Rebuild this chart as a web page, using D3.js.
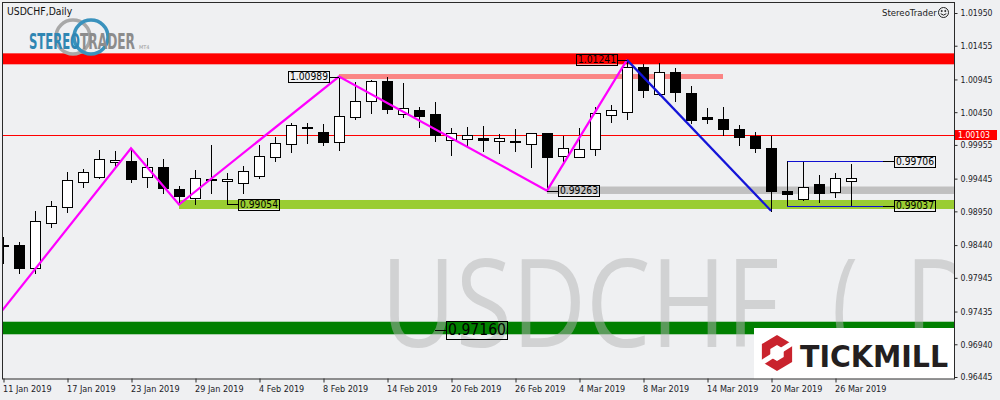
<!DOCTYPE html>
<html><head><meta charset="utf-8">
<script src="https://cdn.jsdelivr.net/npm/d3@7"></script>
<style>html,body{margin:0;padding:0;background:#eff0f2;} svg{display:block}</style>
</head><body><svg id="c" width="1000" height="400"></svg>
<script>
// ---------- DATA ----------
const symbolTitle = "USDCHF,Daily";
const watermarkMain = "USDCHF";
const watermarkTail = ["(", "D1)"];
const preDates = ["2019-01-10"];
const dates = ["2019-01-11","2019-01-14","2019-01-15","2019-01-16","2019-01-17","2019-01-18","2019-01-21","2019-01-22","2019-01-23","2019-01-24","2019-01-25","2019-01-28","2019-01-29","2019-01-30","2019-01-31","2019-02-01","2019-02-04","2019-02-05","2019-02-06","2019-02-07","2019-02-08","2019-02-11","2019-02-12","2019-02-13","2019-02-14","2019-02-15","2019-02-18","2019-02-19","2019-02-20","2019-02-21","2019-02-22","2019-02-25","2019-02-26","2019-02-27","2019-02-28","2019-03-01","2019-03-04","2019-03-05","2019-03-06","2019-03-07","2019-03-08","2019-03-11","2019-03-12","2019-03-13","2019-03-14","2019-03-15","2019-03-18","2019-03-19","2019-03-20","2019-03-21","2019-03-22","2019-03-25","2019-03-26","2019-03-27"];
const open  = [0.98435,0.98441,0.98089,0.98769,0.99011,0.99390,0.99474,0.99692,0.99707,0.99465,0.99621,0.99288,0.99157,0.99440,0.99405,0.99374,0.99485,0.99777,0.99964,1.00218,1.00150,0.99995,1.00382,1.00624,1.00926,1.00418,1.00483,1.00427,1.00025,1.00040,1.00060,1.00010,1.00014,0.99964,1.00135,0.99792,0.99777,0.99889,1.00403,1.00448,1.01129,1.00720,1.01053,1.00736,1.00382,1.00342,1.00191,1.00090,0.99904,0.99258,0.99132,0.99364,0.99238,0.99409];
const high  = [0.98567,0.98482,0.98955,0.99111,0.99545,0.99591,0.99878,0.99863,0.99904,0.99762,0.99742,0.99334,0.99576,0.99954,0.99526,0.99636,0.99954,1.00075,1.00282,1.00291,1.00267,1.00989,1.00911,1.00937,1.00987,1.00896,1.00533,1.00599,1.00206,1.00230,1.00241,1.00120,1.00191,1.00140,1.00140,1.00090,1.00206,1.00521,1.00554,1.01241,1.01174,1.01189,1.01123,1.00846,1.00509,1.00524,1.00256,1.00146,1.00090,0.99474,0.99706,0.99500,0.99535,0.99666];
const low   = [0.98164,0.98013,0.98022,0.98718,0.98945,0.99323,0.99450,0.99625,0.99399,0.99323,0.99223,0.99054,0.99061,0.99223,0.99072,0.99223,0.99450,0.99716,0.99852,0.99988,0.99954,0.99878,1.00342,1.00433,1.00442,1.00382,1.00230,1.00014,0.99802,0.99954,0.99867,0.99828,0.99867,0.99616,0.99263,0.99701,0.99770,0.99802,1.00306,1.00351,1.00684,1.00710,1.00624,1.00282,1.00282,1.00105,0.99954,0.99843,0.98960,0.99046,0.99128,0.99096,0.99172,0.99037];
const close = [0.98422,0.98089,0.98804,0.99026,0.99420,0.99541,0.99737,0.99722,0.99444,0.99621,0.99308,0.99187,0.99450,0.99420,0.99439,0.99556,0.99783,0.99991,1.00256,1.00224,1.00004,1.00392,1.00615,1.00922,1.00503,1.00513,1.00397,1.00105,1.00131,1.00100,1.00029,1.00055,1.00016,1.00135,0.99777,0.99913,0.99889,1.00433,1.00478,1.01129,1.00785,1.01053,1.00760,1.00332,1.00351,1.00200,1.00079,0.99913,0.99263,0.99208,0.99318,0.99232,0.99455,0.99459];

const priceTicks = [1.01950,1.01455,1.00945,1.00450,0.99955,0.99445,0.98950,0.98440,0.97945,0.97435,0.96940,0.96445];
const timeTicks = ["2019-01-11","2019-01-17","2019-01-23","2019-01-29","2019-02-04","2019-02-08","2019-02-14","2019-02-20","2019-02-26","2019-03-04","2019-03-08","2019-03-14","2019-03-20","2019-03-26"];
const timeTickLabels = ["11 Jan 2019","17 Jan 2019","23 Jan 2019","29 Jan 2019","4 Feb 2019","8 Feb 2019","14 Feb 2019","20 Feb 2019","26 Feb 2019","4 Mar 2019","8 Mar 2019","14 Mar 2019","20 Mar 2019","26 Mar 2019"];

const bidPrice = 1.00103;

// zones
const bandLow  = [1.01174, 1.00952, 0.99213, 0.98986, 0.97091];
const bandHigh = [1.01340, 1.01027, 0.99326, 0.99122, 0.97281];
const bandFrom = [null, "2019-02-11", "2019-02-28", "2019-01-28", null];
const bandTo   = [null, "2019-03-15", null, null, null];

// zigzag
const zigDates  = ["2019-01-10","2019-01-23","2019-01-28","2019-02-11","2019-02-28","2019-03-07"];
const zigPrices = [0.97160, 0.99904, 0.99054, 1.00989, 0.99263, 1.01241];
const downDates  = ["2019-03-07","2019-03-20"];
const downPrices = [1.01241, 0.98960];

// range
const rangeFrom = "2019-03-21";
const rangeHigh = 0.99706, rangeLow = 0.99037;

// price labels
const labelPrices = [1.00989, 1.01241, 0.99263, 0.99054, 0.97160];
const labelDates  = ["2019-02-11","2019-03-07","2019-02-28","2019-01-31","2019-02-19"];

// ---------- DRAW ----------
const svg = d3.select("#c");
const timeline = preDates.concat(dates);
const ix = d => timeline.indexOf(d) - preDates.length;
const x = d3.scaleLinear().domain([0, 59.5]).range([3, 955]);
const y = d3.scaleLinear().domain([0.96445, 1.01950]).range([377, 13]);
const xd = d => x(ix(d));
const L = 3, R = 954.5, T = 3, B = 379;
const font = "'DejaVu Sans',sans-serif";

function squeeze(sel, k){
  sel.each(function(){
    const w = this.getComputedTextLength();
    d3.select(this).attr("textLength", w*k).attr("lengthAdjust","spacingAndGlyphs");
  });
}

svg.append("rect").attr("width",1000).attr("height",400).attr("fill","#eff0f2");
svg.append("defs").append("clipPath").attr("id","pc").append("rect")
  .attr("x",L).attr("y",T).attr("width",R-L).attr("height",B-T);
const g = svg.append("g").attr("clip-path","url(#pc)");

// bands
const bandColors = ["#ff0000","#fa8484","#c0c0c0","#9acd32","#008000"];
bandLow.forEach((lo,i)=>{
  const x0 = bandFrom[i] ? xd(bandFrom[i]) : L;
  const x1 = bandTo[i] ? xd(bandTo[i]) : R;
  g.append("rect").attr("x",x0).attr("width",x1-x0)
   .attr("y",y(bandHigh[i])).attr("height",y(lo)-y(bandHigh[i]))
   .attr("fill",bandColors[i]);
});

// watermark
const wm = g.append("g").attr("fill","#b4b4b4").attr("fill-opacity",0.5)
  .attr("font-family","'Open Sans','Noto Sans',sans-serif").attr("font-weight",500).attr("font-size",122);
wm.append("text").attr("x",381).attr("y",347).attr("textLength",398).attr("lengthAdjust","spacingAndGlyphs").text(watermarkMain);
wm.append("text").attr("x",832).attr("y",347).attr("textLength",26).attr("lengthAdjust","spacingAndGlyphs").text(watermarkTail[0]);
wm.append("text").attr("x",905).attr("y",347).attr("textLength",160).attr("lengthAdjust","spacingAndGlyphs").text(watermarkTail[1]);

// bid line
g.append("line").attr("x1",L).attr("x2",R).attr("y1",Math.round(y(bidPrice))+0.5).attr("y2",Math.round(y(bidPrice))+0.5)
 .attr("stroke","#ff0000").attr("stroke-width",1);

// candles
const cg = g.append("g");
dates.forEach((d,i)=>{
  const cx = Math.round(x(i));
  cg.append("line").attr("x1",cx+0.5).attr("x2",cx+0.5)
    .attr("y1",Math.round(y(high[i]))).attr("y2",Math.round(y(low[i]))+1)
    .attr("stroke","#000").attr("stroke-width",1);
  const top = Math.round(y(Math.max(open[i],close[i])));
  const bot = Math.round(y(Math.min(open[i],close[i])));
  const h = Math.max(bot-top,1);
  cg.append("rect").attr("x",cx-4.5).attr("width",10).attr("y",top+0.5).attr("height",h)
    .attr("fill", close[i] >= open[i] ? "#fff" : "#000").attr("stroke","#000").attr("stroke-width",1);
});

// zigzag
const line = d3.line().x(p=>xd(p[0])).y(p=>y(p[1]));
g.append("path").attr("d",line(zigDates.map((d,i)=>[d,zigPrices[i]])))
 .attr("fill","none").attr("stroke","#ff00ff").attr("stroke-width",2.2);
g.append("path").attr("d",line(downDates.map((d,i)=>[d,downPrices[i]])))
 .attr("fill","none").attr("stroke","#1414d8").attr("stroke-width",2.2);

function labelBox(txt, left, p, w, h, fs, tl){
  const yy = y(p);
  g.append("rect").attr("x",Math.round(left)+0.5).attr("y",Math.round(yy-h/2)+0.5).attr("width",w).attr("height",h)
    .attr("fill","none").attr("stroke","#000");
  g.append("text").attr("x",left+2).attr("y",yy+fs*0.36).attr("font-size",fs).attr("font-family",font)
    .attr("textLength",tl).attr("lengthAdjust","spacingAndGlyphs").attr("fill","#000").text(txt);
}

// range lines
const rx0 = xd(rangeFrom), rx1 = x(ix(rangeFrom)+6);
[rangeHigh, rangeLow].forEach(p=>{
  const yy = Math.round(y(p))+0.5;
  g.append("line").attr("x1",rx0).attr("x2",rx1).attr("y1",yy).attr("y2",yy).attr("stroke","#1010d0");
  g.append("line").attr("x1",rx1).attr("x2",rx1+11).attr("y1",yy).attr("y2",yy).attr("stroke","#000");
  labelBox(p.toFixed(5), rx1+11, p, 41, 11, 10, 38);
});
g.append("line").attr("x1",rx0+0.5).attr("x2",rx0+0.5).attr("y1",y(rangeHigh)).attr("y2",y(rangeLow))
 .attr("stroke","#000");

labelPrices.forEach((p,i)=>{
  const ax = xd(labelDates[i]);
  const yy = Math.round(y(p))+0.5;
  const big = i===4;
  const w = big ? 61 : 41, hh = big ? 18 : 11;
  const leftSide = (i<2);
  const bx = leftSide ? ax-10-w : ax+11;
  g.append("line").attr("x1",ax).attr("x2",leftSide? ax-10 : ax+11).attr("y1",yy).attr("y2",yy).attr("stroke","#000");
  labelBox(p.toFixed(5), bx, p, w, hh, big?16:10, big?58:38);
});

// Tickmill box
const tm = g.append("g");
tm.append("rect").attr("x",754).attr("y",328).attr("width",201).attr("height",51).attr("fill","#fff");
const hc=[777,353], Ro=18, Ri=8;
const hex = r => d3.range(6).map(k=>{const a=(-90+60*k)*Math.PI/180;return [hc[0]+r*Math.cos(a)*0.97,hc[1]+r*Math.sin(a)];});
const hp = pts => "M"+pts.map(p=>p.join(",")).join("L")+"Z";
tm.append("path").attr("d",hp(hex(Ro))+hp(hex(Ri).reverse())).attr("fill","#c9232d").attr("fill-rule","evenodd");
tm.append("line").attr("x1",hc[0]-22).attr("y1",hc[1]+14).attr("x2",hc[0]+22).attr("y2",hc[1]-14)
  .attr("stroke","#fff").attr("stroke-width",5);
tm.append("text").attr("x",800).attr("y",367).attr("font-family",font).attr("font-weight","bold")
  .attr("font-size",30).attr("textLength",148).attr("lengthAdjust","spacingAndGlyphs").attr("fill","#231f20").text("TICKMILL");

// frame
svg.append("rect").attr("x",2.5).attr("y",2.5).attr("width",952).attr("height",376.5)
  .attr("fill","none").attr("stroke","#2a2a2a").attr("stroke-width",1);

// axes
const ya = svg.append("g").attr("transform","translate(954.5,0)")
  .call(d3.axisRight(y).tickValues(priceTicks).tickSize(3).tickPadding(3).tickFormat(d=>d.toFixed(5)));
ya.select(".domain").remove();
ya.selectAll("line").attr("stroke","#2a2a2a");
ya.selectAll("text").attr("font-family",font).attr("font-size",9).attr("fill","#1c1c28");
squeeze(ya.selectAll("text"), 0.86);

const xa = svg.append("g").attr("transform","translate(0,378.5)")
  .call(d3.axisBottom(x).tickValues(timeTicks.map(ix)).tickSize(4).tickFormat((d,i)=>timeTickLabels[i]));
xa.select(".domain").remove();
xa.selectAll("line").attr("stroke","#2a2a2a").attr("transform","translate(0.5,0)");
xa.selectAll("text").attr("text-anchor","start").attr("x",-0.5).attr("y",6).attr("dy","0.8em")
  .attr("font-family",font).attr("font-size",9).attr("fill","#1c1c28");
squeeze(xa.selectAll("text"), 0.9);

// bid label
const by = y(bidPrice);
svg.append("rect").attr("x",955).attr("y",Math.round(by)-5).attr("width",42).attr("height",10).attr("fill","#ff0000");
const bt = svg.append("text").attr("x",958).attr("y",by+3.3).attr("font-family",font).attr("font-size",9).attr("fill","#fff").text(bidPrice.toFixed(5));
squeeze(bt, 0.86);

// title
const tt = svg.append("text").attr("x",7).attr("y",15).attr("font-family",font).attr("font-size",10).attr("fill","#111").text(symbolTitle);
squeeze(tt, 0.93);
// top right brand
const st = svg.append("text").attr("x",882).attr("y",16).attr("font-family",font).attr("font-size",9.5).attr("fill","#222").text("StereoTrader");
squeeze(st, 0.9);
const sm = svg.append("g").attr("transform","translate(943.5,12.5)").attr("fill","none").attr("stroke","#222");
sm.append("circle").attr("r",5);
sm.append("path").attr("d","M-2.8,1.2 Q0,4 2.8,1.2");
sm.append("circle").attr("cx",-1.8).attr("cy",-1.5).attr("r",0.6).attr("fill","#222");
sm.append("circle").attr("cx",1.8).attr("cy",-1.5).attr("r",0.6).attr("fill","#222");

// StereoTrader logo
const lg = svg.append("g");
lg.append("circle").attr("cx",73).attr("cy",37).attr("r",17).attr("fill","none").attr("stroke","#a8a8a8").attr("stroke-width",3.5);
lg.append("circle").attr("cx",91).attr("cy",37).attr("r",17).attr("fill","none").attr("stroke","#3a92bd").attr("stroke-width",3.5);
lg.append("text").attr("x",29).attr("y",48.5).attr("font-family",font).attr("font-weight","bold").attr("font-size",21)
  .attr("textLength",51).attr("lengthAdjust","spacingAndGlyphs").attr("fill","#2f86b3").text("STEREO");
lg.append("text").attr("x",80).attr("y",48.5).attr("font-family",font).attr("font-weight","bold").attr("font-size",21)
  .attr("textLength",55).attr("lengthAdjust","spacingAndGlyphs").attr("fill","#8c8c8c").text("TRADER");
lg.append("text").attr("x",139).attr("y",48.5).attr("font-family",font).attr("font-size",5).attr("fill","#999").text("MT4");
</script></body></html>
